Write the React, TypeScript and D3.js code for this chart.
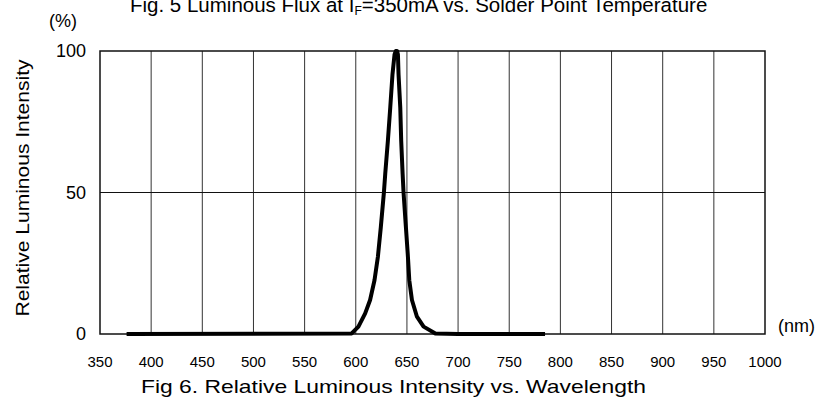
import React, { useEffect, useRef } from 'react';
import * as d3 from 'd3';

// Spectrum
const wavelength = [
  376, 596, 602.6, 609.2, 614, 618.3, 621.6, 624.5, 627.5, 628.8, 631.4, 633.7, 635.9,
  637.9, 639.2, 640.4, 641.2, 641.8, 643.5, 644.4, 645.8, 646.7, 649, 651, 652.3,
  654.9, 659.8, 666.3, 677.8, 700, 785,
];
const intensity = [
  0, 0.2, 2.6, 7.3, 12, 19, 27.2, 37.8, 50, 56.6, 68.3, 80, 91.8,
  98.8, 100, 100, 98.8, 91.8, 80, 68.3, 56.6, 50, 37.8, 27.2, 19,
  12, 6.1, 2.6, 0.2, 0, 0,
];

const xTicks = [350, 400, 450, 500, 550, 600, 650, 700, 750, 800, 850, 900, 950, 1000];
const yTicks = [0, 50, 100];

const App = () => {
  const ref = useRef<SVGSVGElement>(null);

  useEffect(() => {
    const width = 818;
    const height = 403;
    const left = 100;
    const right = 765;
    const top = 51;
    const bottom = 334;
    const font = '"Liberation Sans", Arial, sans-serif';

    const x = d3.scaleLinear().domain([350, 1000]).range([left, right]);
    const y = d3.scaleLinear().domain([0, 100]).range([bottom, top]);

    const svg = d3.select(ref.current);
    svg.selectAll('*').remove();
    svg.attr('width', width).attr('height', height);

    svg.append('rect').attr('width', width).attr('height', height).attr('fill', '#fff');

    // vertical grid
    svg.append('g')
      .selectAll('line')
      .data(xTicks.slice(1, -1))
      .enter()
      .append('line')
      .attr('x1', d => x(d))
      .attr('x2', d => x(d))
      .attr('y1', top)
      .attr('y2', bottom)
      .attr('stroke', '#333')
      .attr('stroke-width', 1);

    // horizontal grid
    svg.append('g')
      .selectAll('line')
      .data(yTicks.slice(1, -1))
      .enter()
      .append('line')
      .attr('x1', left)
      .attr('x2', right)
      .attr('y1', d => y(d))
      .attr('y2', d => y(d))
      .attr('stroke', '#111')
      .attr('stroke-width', 1);

    // frame
    svg.append('rect')
      .attr('x', left)
      .attr('y', top)
      .attr('width', right - left)
      .attr('height', bottom - top)
      .attr('fill', 'none')
      .attr('stroke', '#111')
      .attr('stroke-width', 1.5);

    // curve
    const line = d3.line<number>()
      .x((d, i) => x(wavelength[i]))
      .y(d => y(d));

    svg.append('path')
      .datum(intensity)
      .attr('d', line)
      .attr('fill', 'none')
      .attr('stroke', '#000')
      .attr('stroke-width', 4)
      .attr('stroke-linejoin', 'round');

    // x tick labels
    svg.append('g')
      .selectAll('text')
      .data(xTicks)
      .enter()
      .append('text')
      .attr('x', d => x(d))
      .attr('y', 367)
      .attr('text-anchor', 'middle')
      .attr('font-family', font)
      .attr('font-size', 15)
      .text(d => d);

    // y tick labels
    svg.append('g')
      .selectAll('text')
      .data(yTicks)
      .enter()
      .append('text')
      .attr('x', 86)
      .attr('y', d => y(d))
      .attr('dy', '0.36em')
      .attr('text-anchor', 'end')
      .attr('font-family', font)
      .attr('font-size', 18)
      .text(d => d);

    svg.append('text')
      .attr('x', 63)
      .attr('y', 27)
      .attr('text-anchor', 'middle')
      .attr('font-family', font)
      .attr('font-size', 18)
      .text('(%)');

    svg.append('text')
      .attr('x', 778)
      .attr('y', 332)
      .attr('font-family', font)
      .attr('font-size', 18)
      .text('(nm)');

    svg.append('text')
      .attr('transform', 'translate(29,188) rotate(-90)')
      .attr('text-anchor', 'middle')
      .attr('font-family', font)
      .attr('font-size', 19)
      .attr('textLength', 257)
      .attr('lengthAdjust', 'spacingAndGlyphs')
      .text('Relative Luminous Intensity');

    svg.append('text')
      .attr('x', 141)
      .attr('y', 393)
      .attr('font-family', font)
      .attr('font-size', 19)
      .attr('textLength', 505)
      .attr('lengthAdjust', 'spacingAndGlyphs')
      .text('Fig 6. Relative Luminous Intensity vs. Wavelength');

    // title of the previous figure, cut off at the top edge
    const t = svg.append('text')
      .attr('x', 130)
      .attr('y', 12)
      .attr('font-family', font)
      .attr('font-size', 20.5);
    t.append('tspan').text('Fig. 5 Luminous Flux at I');
    t.append('tspan').attr('font-size', 12).attr('dy', 3).text('F');
    t.append('tspan').attr('dy', -3).text('=350mA vs. Solder Point Temperature');
  }, []);

  return (
    <svg ref={ref} style={{ position: 'absolute', left: 0, top: 0 }} />
  );
};

export default App;
